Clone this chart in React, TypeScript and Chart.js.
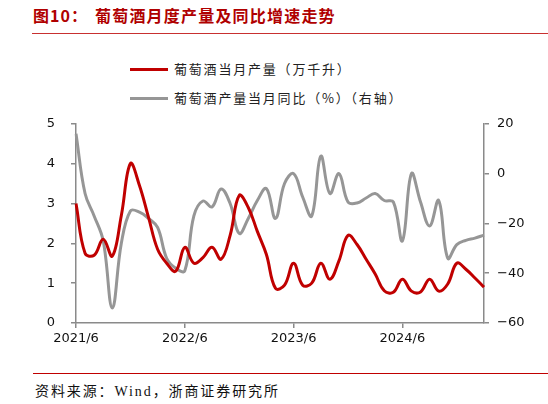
import { useEffect, useRef } from "react"
import { Chart, registerables } from "chart.js"

Chart.register(...registerables)

// 月份（2021/6 - 2025/3）
const months = [
    "2021/6", "2021/7", "2021/8", "2021/9", "2021/10", "2021/11", "2021/12",
    "2022/1", "2022/2", "2022/3", "2022/4", "2022/5", "2022/6", "2022/7", "2022/8", "2022/9", "2022/10", "2022/11", "2022/12",
    "2023/1", "2023/2", "2023/3", "2023/4", "2023/5", "2023/6", "2023/7", "2023/8", "2023/9", "2023/10", "2023/11", "2023/12",
    "2024/1", "2024/2", "2024/3", "2024/4", "2024/5", "2024/6", "2024/7", "2024/8", "2024/9", "2024/10", "2024/11", "2024/12",
    "2025/1", "2025/2", "2025/3",
]

// 葡萄酒当月产量（万千升）
const output = [
    3.0, 1.75, 1.7, 2.1, 1.68, 2.7, 4.0,
    3.45, 2.65, 1.85, 1.5, 1.3, 1.9, 1.5, 1.64, 1.9, 1.6, 2.2, 3.2,
    2.9, 2.3, 1.72, 0.87, 0.95, 1.5, 0.95, 1.0, 1.5, 1.1, 1.56, 2.2,
    1.97, 1.6, 1.23, 0.81, 0.77, 1.1, 0.8, 0.78, 1.1, 0.8, 0.98, 1.5,
    1.35, 1.13, 0.9,
]

// 葡萄酒产量当月同比（%）
const yoy = [
    16, -8, -17, -27, -54, -28, -15,
    -15.5, -18, -21.6, -34, -38, -39, -17, -11, -13.4, -6.2, -12, -24,
    -18, -10.8, -6, -18, -4, 0, -9.4, -17, 7, -8, 0, -11.4,
    -11.8, -9.8, -8, -10.8, -11.4, -27, 0, -11.4, -21, -10.8, -34, -28.5,
    -26.8, -25.9, -24.7,
]

const leftRange = [0, 5]
const rightRange = [-60, 20]

const RED = "#c00000"
const GRAY = "#969696"
const AXIS = "#8a8a8a"
const TICK_FONT = { family: '"DejaVu Sans", "Liberation Sans", sans-serif', size: 13 }
const CJK = '"Noto Sans CJK SC", sans-serif'

function WineChart() {
    const canvasRef = useRef<HTMLCanvasElement | null>(null)
    const chartRef = useRef<Chart | null>(null)

    useEffect(() => {
        if (!canvasRef.current) return
        if (chartRef.current) chartRef.current.destroy()

        const isTick = (i: number) => !!months[i] && months[i].endsWith("/6")

        chartRef.current = new Chart(canvasRef.current, {
            type: "line",
            data: {
                labels: months,
                datasets: [
                    {
                        label: "葡萄酒当月产量（万千升）",
                        data: output,
                        borderColor: RED,
                        borderWidth: 3,
                        pointRadius: 0,
                        tension: 0.4,
                        yAxisID: "y",
                        order: 1,
                    },
                    {
                        label: "葡萄酒产量当月同比（%）（右轴）",
                        data: yoy,
                        borderColor: GRAY,
                        borderWidth: 3,
                        pointRadius: 0,
                        tension: 0.4,
                        yAxisID: "y1",
                        order: 2,
                    },
                ],
            },
            options: {
                animation: false,
                responsive: true,
                maintainAspectRatio: false,
                layout: { padding: { top: 21, left: 0, right: 0, bottom: 0 } },
                plugins: { legend: { display: false }, tooltip: { enabled: false } },
                scales: {
                    x: {
                        type: "category",
                        offset: false,
                        border: { color: AXIS, width: 1.5 },
                        grid: {
                            drawOnChartArea: false,
                            drawTicks: true,
                            tickLength: 5,
                            lineWidth: 1.5,
                            color: (ctx: any) => (isTick(ctx.index) ? AXIS : "rgba(0,0,0,0)"),
                        },
                        ticks: {
                            autoSkip: false,
                            maxRotation: 0,
                            padding: 3,
                            color: "#111",
                            font: TICK_FONT,
                            callback: (_v: any, i: number) => (isTick(i) ? months[i] : ""),
                        },
                        afterFit: (s: any) => {
                            s.height = 37
                        },
                    },
                    y: {
                        position: "left",
                        min: leftRange[0],
                        max: leftRange[1],
                        border: { color: AXIS, width: 1.5 },
                        grid: { drawOnChartArea: false, tickLength: 5, color: AXIS, lineWidth: 1.5 },
                        ticks: { stepSize: 1, padding: 16, color: "#111", font: TICK_FONT },
                        afterFit: (s: any) => {
                            s.width = 76
                        },
                    },
                    y1: {
                        position: "right",
                        min: rightRange[0],
                        max: rightRange[1],
                        border: { color: AXIS, width: 1.5 },
                        grid: { drawOnChartArea: false, tickLength: 5, color: AXIS, lineWidth: 1.5 },
                        ticks: {
                            stepSize: 20,
                            padding: 8,
                            color: "#111",
                            font: TICK_FONT,
                            callback: (v: any) => String(v).replace("-", "−"),
                        },
                        afterFit: (s: any) => {
                            s.width = 64
                        },
                    },
                },
            },
        })

        return () => {
            if (chartRef.current) {
                chartRef.current.destroy()
                chartRef.current = null
            }
        }
    }, [])

    return <canvas ref={canvasRef} />
}

export default function App() {
    return (
        <div style={{ position: "absolute", left: 0, top: 0, width: 548, height: 404, background: "#fff", overflow: "hidden" }}>
            {/* 标题 */}
            <div style={{ position: "absolute", left: 33, top: 4, lineHeight: "22px", fontFamily: CJK, fontSize: 16, fontWeight: 700, color: "#b00000", letterSpacing: 1 }}>
                图10：
            </div>
            <div style={{ position: "absolute", left: 95, top: 4, lineHeight: "22px", fontFamily: CJK, fontSize: 16, fontWeight: 700, color: "#b00000", letterSpacing: 1.2 }}>
                葡萄酒月度产量及同比增速走势
            </div>
            <div style={{ position: "absolute", left: 32, top: 33, width: 516, height: 1, background: "#c83030" }} />

            {/* 图例 */}
            <div style={{ position: "absolute", left: 130, top: 67.5, width: 38, height: 3, background: RED }} />
            <div style={{ position: "absolute", left: 174, top: 59, lineHeight: "20px", fontFamily: CJK, fontSize: 13, color: "#222", letterSpacing: 1.8 }}>
                葡萄酒当月产量（万千升）
            </div>
            <div style={{ position: "absolute", left: 130, top: 96.5, width: 38, height: 3, background: GRAY }} />
            <div style={{ position: "absolute", left: 174, top: 88, lineHeight: "20px", fontFamily: CJK, fontSize: 13, color: "#222", letterSpacing: 1.8 }}>
                葡萄酒产量当月同比（%）（右轴）
            </div>

            {/* 图表 */}
            <div style={{ position: "absolute", left: 0, top: 100, width: 548, height: 260 }}>
                <WineChart />
            </div>

            {/* 来源 */}
            <div style={{ position: "absolute", left: 33, top: 373, width: 515, height: 1, background: "#c00000" }} />
            <div style={{ position: "absolute", left: 35, top: 381, lineHeight: "22px", fontFamily: '"Liberation Serif", "Noto Sans CJK SC", serif', fontSize: 14, color: "#111", letterSpacing: 1.9 }}>
                资料来源：Wind，浙商证券研究所
            </div>
        </div>
    )
}
